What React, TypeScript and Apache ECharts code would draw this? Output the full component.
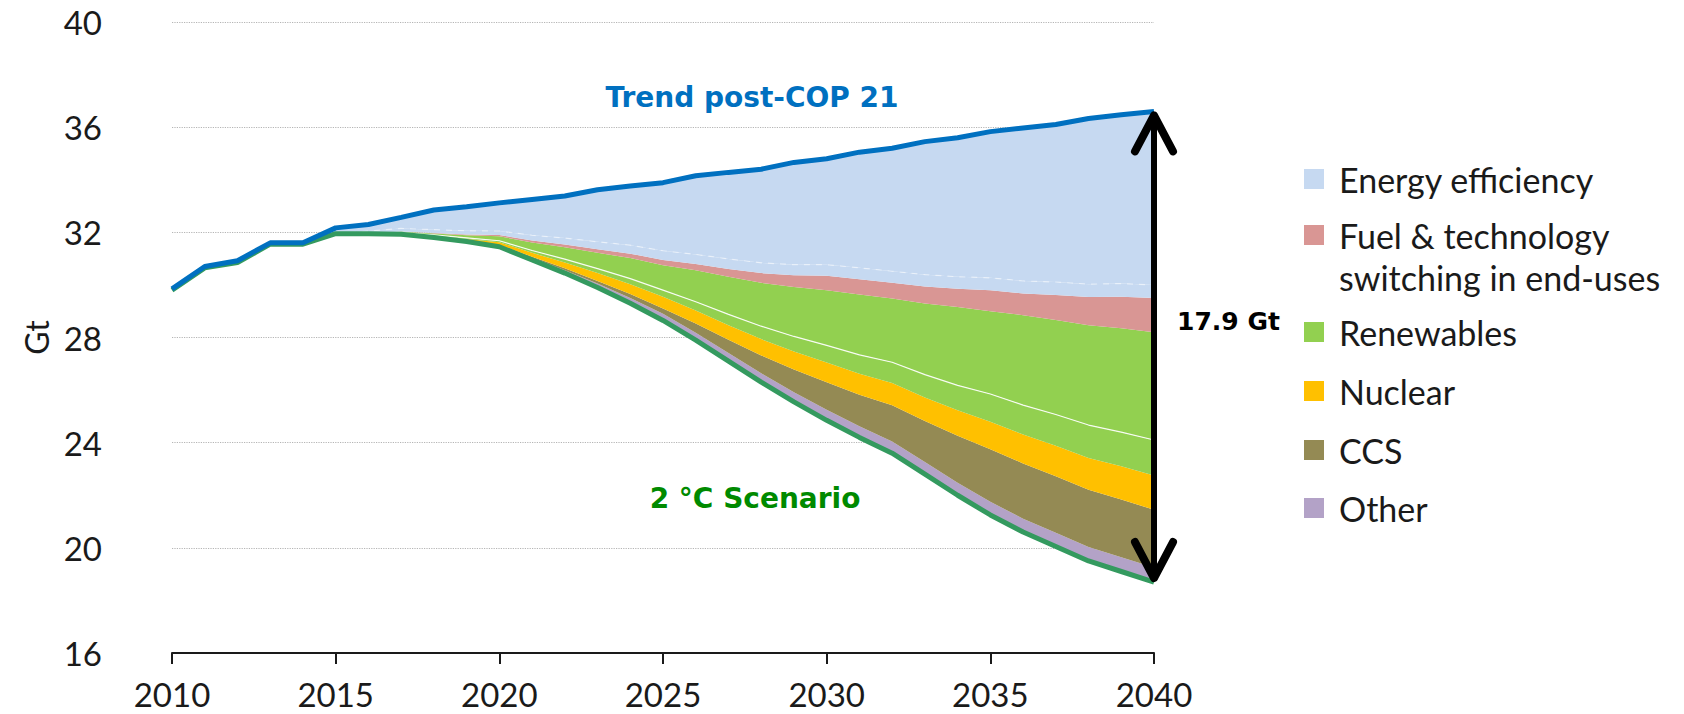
import React, { useEffect, useRef } from 'react';
import * as echarts from 'echarts';

// ---------- data (Gt CO2), 2010-2040 ----------
const years = [
  '2010', '2011', '2012', '2013', '2014', '2015', '2016', '2017', '2018', '2019',
  '2020', '2021', '2022', '2023', '2024', '2025', '2026', '2027', '2028', '2029',
  '2030', '2031', '2032', '2033', '2034', '2035', '2036', '2037', '2038', '2039', '2040',
];

const trendPostCOP21 = [
  29.85, 30.7, 30.92, 31.6, 31.6, 32.17, 32.3, 32.57, 32.85, 32.97,
  33.12, 33.25, 33.38, 33.62, 33.76, 33.89, 34.15, 34.28, 34.4, 34.66,
  34.8, 35.05, 35.2, 35.45, 35.6, 35.83, 35.97, 36.1, 36.33, 36.47, 36.6,
];

const scenario2C = [
  29.8, 30.65, 30.85, 31.55, 31.55, 31.95, 31.95, 31.93, 31.8, 31.65,
  31.45, 30.95, 30.45, 29.9, 29.3, 28.65, 27.9, 27.1, 26.3, 25.55,
  24.85, 24.2, 23.6, 22.8, 22.0, 21.25, 20.6, 20.05, 19.5, 19.1, 18.7,
];

// reductions, stacked on top of the 2 °C Scenario line (bottom to top)
const other = [
  0, 0, 0, 0, 0, 0, 0, 0.02, 0.03, 0.04,
  0.05, 0.08, 0.11, 0.15, 0.2, 0.25, 0.28, 0.31, 0.34, 0.37,
  0.4, 0.42, 0.44, 0.46, 0.48, 0.5, 0.51, 0.52, 0.53, 0.54, 0.55,
];
const ccs = [
  0, 0, 0, 0, 0, 0, 0, 0, 0, 0,
  0.02, 0.04, 0.07, 0.1, 0.15, 0.2, 0.35, 0.5, 0.68, 0.86,
  1.05, 1.2, 1.38, 1.56, 1.78, 2.0, 2.1, 2.15, 2.18, 2.2, 2.2,
];
const nuclear = [
  0, 0, 0, 0, 0, 0, 0, 0.02, 0.04, 0.06,
  0.1, 0.15, 0.22, 0.3, 0.38, 0.45, 0.5, 0.56, 0.62, 0.69,
  0.75, 0.8, 0.85, 0.9, 0.97, 1.05, 1.1, 1.16, 1.21, 1.26, 1.3,
];
const renewablesLower = [
  0, 0, 0, 0, 0, 0, 0, 0.02, 0.03, 0.04,
  0.06, 0.09, 0.13, 0.17, 0.21, 0.25, 0.33, 0.41, 0.49, 0.57,
  0.65, 0.72, 0.79, 0.87, 0.95, 1.05, 1.12, 1.19, 1.25, 1.3, 1.35,
];
const renewablesUpper = [
  0, 0, 0, 0, 0, 0, 0, 0.04, 0.06, 0.1,
  0.17, 0.3, 0.45, 0.6, 0.78, 0.95, 1.2, 1.43, 1.65, 1.88,
  2.1, 2.3, 2.42, 2.7, 2.98, 3.15, 3.42, 3.6, 3.8, 3.95, 4.1,
];
const fuelSwitching = [
  0, 0, 0, 0, 0, 0, 0, 0, 0.01, 0.03,
  0.05, 0.08, 0.11, 0.14, 0.17, 0.2, 0.24, 0.3, 0.37, 0.45,
  0.55, 0.58, 0.6, 0.65, 0.69, 0.8, 0.82, 0.95, 1.07, 1.2, 1.3,
];
const efficiencyLower = [
  0, 0, 0, 0, 0, 0, 0.1, 0.12, 0.13, 0.14,
  0.15, 0.2, 0.24, 0.28, 0.32, 0.35, 0.36, 0.38, 0.39, 0.4,
  0.42, 0.43, 0.44, 0.45, 0.46, 0.47, 0.48, 0.49, 0.49, 0.5, 0.5,
];
const efficiencyUpper = [
  0.05, 0.05, 0.07, 0.05, 0.05, 0.22, 0.25, 0.42, 0.75, 0.91,
  1.07, 1.36, 1.6, 1.98, 2.25, 2.59, 2.99, 3.29, 3.56, 3.89,
  4.03, 4.4, 4.68, 5.06, 5.29, 5.56, 5.82, 5.99, 6.3, 6.42, 6.6,
];

const legendLabels = [
  'Energy efficiency',
  'Fuel & technology\nswitching in end-uses',
  'Renewables',
  'Nuclear',
  'CCS',
  'Other',
];
const legendColors = ['#c6d9f1', '#d99694', '#92d050', '#ffc000', '#948a54', '#b3a2c7'];

const trendLabel = 'Trend post-COP 21';
const scenarioLabel = '2 °C Scenario';
const gapLabel = '17.9 Gt';
const yAxisName = 'Gt';

export default function App() {
  const ref = useRef<HTMLDivElement>(null);

  useEffect(() => {
    if (!ref.current) return;
    const chart = echarts.init(ref.current, null, { renderer: 'svg' });
    const last = years.length - 1;

    const area = (name: string, data: number[], color: string, extra: any = {}) => ({
      name,
      type: 'line',
      stack: 'cut',
      data,
      symbol: 'none',
      silent: true,
      lineStyle: { width: 0, color },
      itemStyle: { color },
      areaStyle: { color, opacity: 1 },
      ...extra,
    });

    const legendY = [179, 235, 332, 391, 450, 508];
    const legendGraphics: any[] = [];
    legendLabels.forEach((label, i) => {
      legendGraphics.push({
        type: 'rect',
        shape: { x: 1304, y: legendY[i] - 10, width: 20, height: 20 },
        style: { fill: legendColors[i] },
        silent: true,
      });
      legendGraphics.push({
        type: 'text',
        x: 1339,
        y: legendY[i] - 21,
        silent: true,
        style: {
          text: label,
          fill: '#1a1a1a',
          font: '34px Lato',
          lineHeight: 42,
          align: 'left',
          verticalAlign: 'top',
        },
      });
    });

    chart.setOption({
      animation: false,
      backgroundColor: '#ffffff',
      grid: { left: 172, right: 530, top: 22, bottom: 61, containLabel: false },
      xAxis: {
        type: 'category',
        data: years,
        boundaryGap: false,
        axisLine: { lineStyle: { color: '#1a1a1a', width: 2 } },
        axisTick: { interval: 4, length: 11, lineStyle: { color: '#1a1a1a', width: 2 } },
        axisLabel: {
          interval: 4,
          margin: 25,
          fontFamily: 'Lato',
          fontSize: 33,
          lineHeight: 32,
          color: '#1a1a1a',
        },
        splitLine: { show: false },
      },
      yAxis: {
        type: 'value',
        min: 16,
        max: 40,
        interval: 4,
        name: yAxisName,
        nameLocation: 'middle',
        nameGap: 114,
        nameTextStyle: { fontFamily: 'Lato', fontSize: 32, color: '#1a1a1a' },
        axisLine: { show: false },
        axisTick: { show: false },
        axisLabel: { margin: 70, fontFamily: 'Lato', fontSize: 33, color: '#1a1a1a' },
        splitLine: { lineStyle: { type: 'dotted', color: '#b5b5b5', width: 1.2 } },
      },
      series: [
        {
          name: 'base',
          type: 'line',
          stack: 'cut',
          data: scenario2C,
          symbol: 'none',
          silent: true,
          lineStyle: { width: 0, opacity: 0 },
        },
        area('Other', other, legendColors[5]),
        area('CCS', ccs, legendColors[4]),
        area('Nuclear', nuclear, legendColors[3]),
        area('Renewables', renewablesLower, legendColors[2], {
          z: 3,
          lineStyle: { width: 1.2, color: '#ffffff', opacity: 0.9 },
        }),
        area('Renewables', renewablesUpper, legendColors[2]),
        area('Fuel & technology switching in end-uses', fuelSwitching, legendColors[1]),
        area('Energy efficiency', efficiencyLower, legendColors[0], {
          z: 3,
          lineStyle: { width: 1.2, color: '#ffffff', opacity: 0.5, type: [6, 6] },
        }),
        area('Energy efficiency', efficiencyUpper, legendColors[0]),
        {
          name: scenarioLabel,
          type: 'line',
          data: scenario2C,
          symbol: 'none',
          silent: true,
          z: 5,
          lineStyle: { width: 5, color: '#349a5f' },
        },
        {
          name: trendLabel,
          type: 'line',
          data: trendPostCOP21,
          symbol: 'none',
          silent: true,
          z: 6,
          lineStyle: { width: 5, color: '#0070c0' },
        },
        {
          name: 'gap',
          type: 'custom',
          silent: true,
          clip: false,
          z: 10,
          encode: { x: 0, y: [1, 2] },
          data: [[last, trendPostCOP21[last], scenario2C[last]]],
          renderItem: (params: any, api: any) => {
            const x = api.value(0);
            const p1 = api.coord([x, api.value(1)]);
            const p2 = api.coord([x, api.value(2)]);
            const w = 19;
            const h = 40;
            const headStyle = {
              stroke: '#000',
              lineWidth: 8,
              fill: 'none',
              lineCap: 'round',
              lineJoin: 'round',
            };
            return {
              type: 'group',
              children: [
                {
                  type: 'line',
                  shape: { x1: p1[0], y1: p1[1] + 3, x2: p2[0], y2: p2[1] - 3 },
                  style: { stroke: '#000', lineWidth: 6 },
                },
                {
                  type: 'polyline',
                  shape: { points: [[p1[0] - w, p1[1] + h], [p1[0], p1[1] + 4], [p1[0] + w, p1[1] + h]] },
                  style: headStyle,
                },
                {
                  type: 'polyline',
                  shape: { points: [[p2[0] - w, p2[1] - h], [p2[0], p2[1] - 4], [p2[0] + w, p2[1] - h]] },
                  style: headStyle,
                },
              ],
            };
          },
        },
      ],
      graphic: [
        {
          type: 'text',
          x: 752,
          y: 97,
          silent: true,
          style: {
            text: trendLabel,
            fill: '#0070c0',
            font: 'bold 28px "DejaVu Sans"',
            align: 'center',
            verticalAlign: 'middle',
          },
        },
        {
          type: 'text',
          x: 755,
          y: 498,
          silent: true,
          style: {
            text: scenarioLabel,
            fill: '#008a00',
            font: 'bold 28px "DejaVu Sans"',
            align: 'center',
            verticalAlign: 'middle',
          },
        },
        {
          type: 'text',
          x: 1177,
          y: 321,
          silent: true,
          style: {
            text: gapLabel,
            fill: '#000',
            font: 'bold 25px "DejaVu Sans"',
            align: 'left',
            verticalAlign: 'middle',
          },
        },
        ...legendGraphics,
      ],
    });

    return () => chart.dispose();
  }, []);

  return (
    <div
      ref={ref}
      style={{ position: 'absolute', left: 0, top: 0, width: 1684, height: 714, background: '#fff' }}
    />
  );
}
